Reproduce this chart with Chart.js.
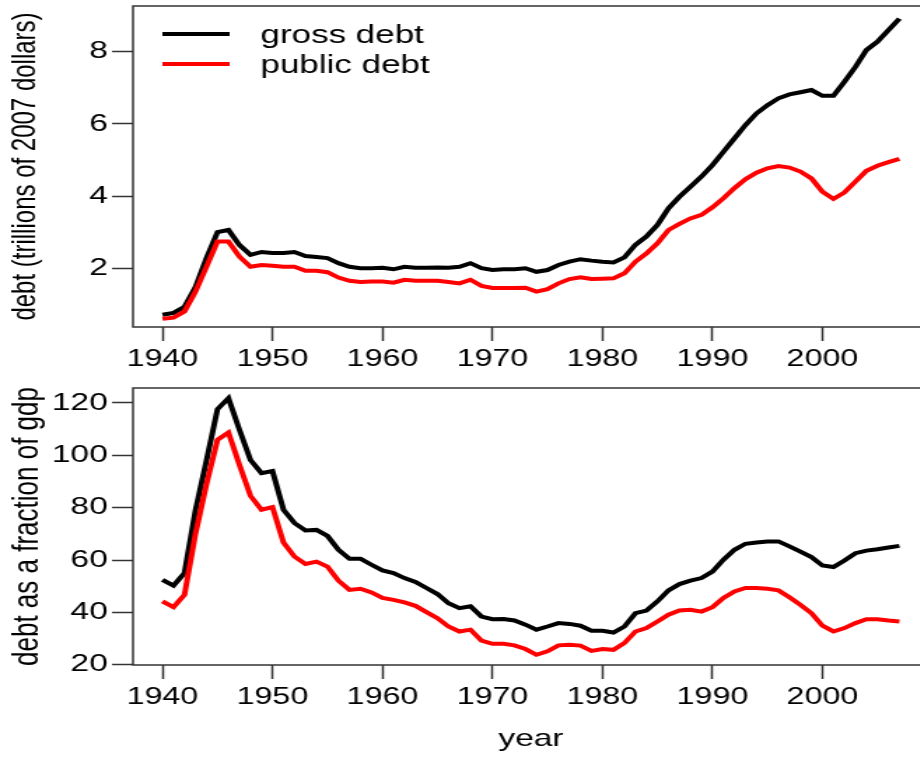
<!DOCTYPE html>
<html>
<head>
<meta charset="utf-8">
<script src="https://cdn.jsdelivr.net/npm/chart.js@4.4.1/dist/chart.umd.min.js"></script>
<style>
    html, body { margin: 0; padding: 0; background: #fff; width: 920px; height: 758px; overflow: hidden; }
    /* the source plot is stretched sideways, so the canvases are too */
    canvas { position: absolute; left: 0; transform: scaleX(1.4); transform-origin: 0 0; }
    #debtChart { top: 0; }
    #gdpChart { top: 372px; }
</style>
</head>
<body>
<canvas id="debtChart" width="680" height="372"></canvas>
<canvas id="gdpChart" width="680" height="386"></canvas>
<script>
// ── Data ─────────────────────────────────────────────────────
const years = [
    1940, 1941, 1942, 1943, 1944, 1945, 1946, 1947, 1948, 1949,
    1950, 1951, 1952, 1953, 1954, 1955, 1956, 1957, 1958, 1959,
    1960, 1961, 1962, 1963, 1964, 1965, 1966, 1967, 1968, 1969,
    1970, 1971, 1972, 1973, 1974, 1975, 1976, 1977, 1978, 1979,
    1980, 1981, 1982, 1983, 1984, 1985, 1986, 1987, 1988, 1989,
    1990, 1991, 1992, 1993, 1994, 1995, 1996, 1997, 1998, 1999,
    2000, 2001, 2002, 2003, 2004, 2005, 2006, 2007,
];

// trillions of 2007 dollars
const grossDebt = [
    0.71, 0.76, 0.93, 1.48, 2.28, 3.00, 3.06, 2.64, 2.37, 2.45,
    2.42, 2.42, 2.45, 2.34, 2.31, 2.28, 2.14, 2.04, 2.00, 2.00,
    2.01, 1.97, 2.04, 2.01, 2.01, 2.02, 2.01, 2.04, 2.14, 2.00,
    1.95, 1.97, 1.97, 2.00, 1.90, 1.95, 2.09, 2.18, 2.25, 2.21,
    2.18, 2.16, 2.30, 2.65, 2.88, 3.20, 3.66, 3.98, 4.26, 4.54,
    4.86, 5.23, 5.60, 5.97, 6.29, 6.52, 6.71, 6.82, 6.88, 6.94,
    6.78, 6.78, 7.17, 7.58, 8.05, 8.28, 8.60, 8.92,
];
const publicDebt = [
    0.60, 0.63, 0.80, 1.35, 2.04, 2.74, 2.74, 2.32, 2.04, 2.09,
    2.07, 2.04, 2.04, 1.93, 1.93, 1.89, 1.74, 1.65, 1.62, 1.63,
    1.63, 1.60, 1.68, 1.65, 1.65, 1.65, 1.62, 1.58, 1.68, 1.51,
    1.45, 1.45, 1.45, 1.46, 1.35, 1.42, 1.58, 1.70, 1.75, 1.70,
    1.71, 1.72, 1.86, 2.18, 2.41, 2.69, 3.06, 3.23, 3.38, 3.48,
    3.69, 3.94, 4.22, 4.47, 4.65, 4.77, 4.83, 4.79, 4.68, 4.49,
    4.12, 3.92, 4.10, 4.40, 4.70, 4.84, 4.94, 5.03,
];

// percent of gdp
const grossShare = [
    52.4, 50.2, 55.0, 79.0, 98.0, 117.6, 121.8, 109.7, 98.2, 93.2,
    94.0, 79.2, 74.1, 71.3, 71.5, 69.2, 63.9, 60.5, 60.5, 58.2,
    56.0, 55.0, 53.1, 51.6, 49.3, 47.0, 43.5, 41.6, 42.3, 38.4,
    37.4, 37.5, 36.9, 35.3, 33.4, 34.6, 35.9, 35.6, 34.9, 33.0,
    33.0, 32.3, 34.6, 39.7, 40.7, 44.2, 48.4, 50.8, 52.1, 53.1,
    55.6, 60.1, 63.9, 66.2, 66.7, 67.1, 67.1, 65.2, 63.2, 61.1,
    57.9, 57.3, 59.8, 62.6, 63.6, 64.1, 64.8, 65.4,
];
const publicShare = [
    44.2, 42.0, 46.7, 70.0, 89.0, 105.9, 108.7, 96.3, 84.5, 79.2,
    80.2, 66.7, 61.3, 58.5, 59.4, 57.5, 52.1, 48.6, 49.0, 47.6,
    45.5, 44.8, 43.8, 42.5, 40.1, 37.8, 34.6, 32.7, 33.4, 29.2,
    28.0, 28.0, 27.4, 26.0, 23.8, 25.1, 27.4, 27.6, 27.3, 25.3,
    26.0, 25.7, 28.3, 32.7, 34.0, 36.5, 39.1, 40.7, 41.0, 40.3,
    42.0, 45.5, 48.0, 49.3, 49.3, 49.0, 48.4, 45.8, 42.9, 39.7,
    34.9, 32.7, 34.0, 35.9, 37.4, 37.4, 36.9, 36.5,
];

const seriesNames = ["gross debt", "public debt"];
const seriesColors = ["#000000", "#ff0000"];

const yearTicks = [1940, 1950, 1960, 1970, 1980, 1990, 2000];
const debtTicks = [2, 4, 6, 8];
const shareTicks = [20, 40, 60, 80, 100, 120];

// ── Helpers ──────────────────────────────────────────────────
const FONT = "'Liberation Sans', Arial, Helvetica, sans-serif";
const AXIS_COLOR = "#333333";
const LINE_WIDTH = 4;

function toPoints(values) {
    return years.map((yr, i) => ({ x: yr, y: values[i] }));
}

// box around the plot region, like R's box()
const framePlugin = {
    id: "frame",
    afterDraw(chart) {
        const { ctx, chartArea: a } = chart;
        ctx.save();
        ctx.strokeStyle = AXIS_COLOR;
        ctx.lineWidth = 1.5;
        ctx.strokeRect(a.left, a.top, a.right - a.left, a.bottom - a.top);
        ctx.restore();
    },
};

// legend in the top-left corner of the upper panel
const cornerLegend = {
    id: "cornerLegend",
    afterDatasetsDraw(chart, args, opts) {
        if (!opts.show) return;
        const { ctx, chartArea: a } = chart;
        ctx.save();
        ctx.font = `25px ${FONT}`;
        ctx.textBaseline = "middle";
        seriesNames.forEach((name, i) => {
            const y = a.top + 28 + i * 30;
            ctx.strokeStyle = seriesColors[i];
            ctx.lineWidth = LINE_WIDTH;
            ctx.beginPath();
            ctx.moveTo(a.left + 21, y);
            ctx.lineTo(a.left + 69, y);
            ctx.stroke();
            ctx.fillStyle = "#000";
            ctx.fillText(name, a.left + 91, y + 2);
        });
        ctx.restore();
    },
};

function makeChart(canvasId, gross, pub, cfg) {
    const ctx = document.getElementById(canvasId).getContext("2d");
    return new Chart(ctx, {
        type: "line",
        data: {
            datasets: [
                {
                    label: seriesNames[0],
                    data: toPoints(gross),
                    borderColor: seriesColors[0],
                    borderWidth: LINE_WIDTH,
                    pointRadius: 0,
                    order: 1,
                },
                {
                    label: seriesNames[1],
                    data: toPoints(pub),
                    borderColor: seriesColors[1],
                    borderWidth: LINE_WIDTH,
                    pointRadius: 0,
                    order: 0,
                },
            ],
        },
        plugins: [framePlugin, cornerLegend],
        options: {
            responsive: false,
            animation: false,
            devicePixelRatio: 1,
            layout: { padding: { top: cfg.padTop, right: 16.5, left: 0, bottom: 0 } },
            plugins: {
                legend: { display: false },
                tooltip: { enabled: false },
                cornerLegend: { show: cfg.legend },
            },
            scales: {
                x: {
                    type: "linear",
                    min: 1937.32,
                    max: 2009.68,
                    afterBuildTicks: (scale) => { scale.ticks = yearTicks.map(v => ({ value: v })); },
                    afterFit: (scale) => {
                        scale.height = cfg.xHeight;
                        scale.paddingLeft = 0;
                        scale.paddingRight = 0;
                    },
                    border: { display: false },
                    grid: {
                        drawOnChartArea: false,
                        tickLength: 14,
                        tickColor: AXIS_COLOR,
                        tickWidth: 1.5,
                    },
                    ticks: {
                        autoSkip: false,
                        maxRotation: 0,
                        padding: 5,
                        color: "#000",
                        font: { family: FONT, size: 23 },
                        callback: (v) => String(v),
                    },
                    title: {
                        display: !!cfg.xTitle,
                        text: cfg.xTitle || "",
                        color: "#000",
                        font: { family: FONT, size: 24 },
                        padding: { top: 0, bottom: 4 },
                    },
                },
                y: {
                    min: cfg.yMin,
                    max: cfg.yMax,
                    afterBuildTicks: (scale) => { scale.ticks = cfg.yTicks.map(v => ({ value: v })); },
                    afterFit: (scale) => {
                        scale.width = 95;
                        scale.paddingTop = 0;
                        scale.paddingBottom = 0;
                    },
                    border: { display: false },
                    grid: {
                        drawOnChartArea: false,
                        tickLength: 15,
                        tickColor: AXIS_COLOR,
                        tickWidth: 1.5,
                    },
                    ticks: {
                        padding: 3,
                        color: "#000",
                        font: { family: FONT, size: 24 },
                        callback: (v) => String(v),
                    },
                    title: {
                        display: true,
                        text: cfg.yTitle,
                        color: "#000",
                        font: { family: FONT, size: cfg.yTitleSize },
                        padding: { top: 4, bottom: 0 },
                    },
                },
            },
        },
    });
}

makeChart("debtChart", grossDebt, publicDebt, {
    padTop: 6,
    xHeight: 45,
    yMin: 0.37,
    yMax: 9.27,
    yTicks: debtTicks,
    yTitle: "debt (trillions of 2007 dollars)",
    yTitleSize: 24,
    legend: true,
});

makeChart("gdpChart", grossShare, publicShare, {
    padTop: 16,
    xHeight: 93,
    yMin: 19.9,
    yMax: 125.7,
    yTicks: shareTicks,
    yTitle: "debt as a fraction of gdp",
    yTitleSize: 26,
    xTitle: "year",
    legend: false,
});
</script>
</body>
</html>
